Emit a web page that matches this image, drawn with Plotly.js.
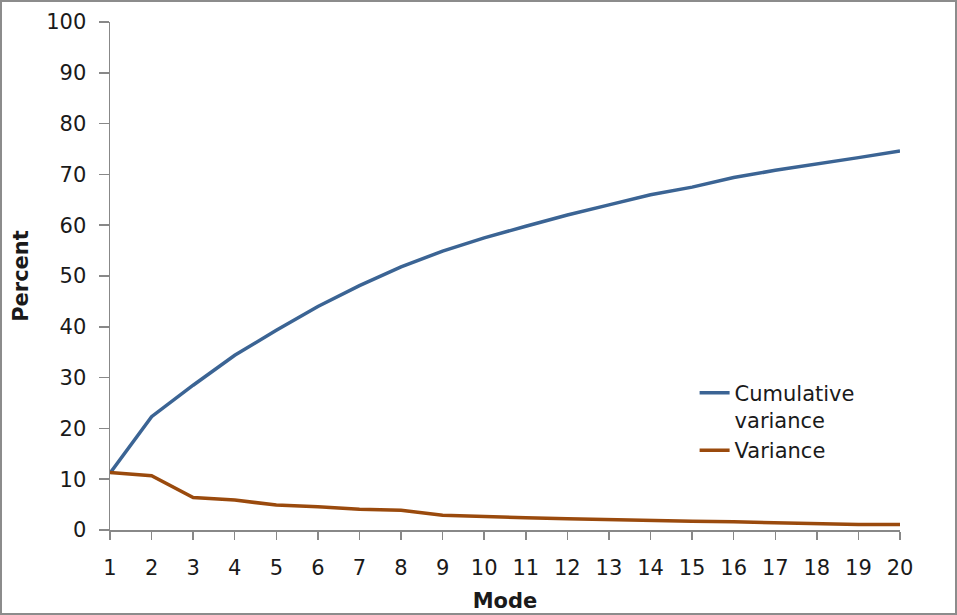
<!DOCTYPE html>
<html>
<head>
<meta charset="utf-8">
<script src="https://cdn.plot.ly/plotly-3.0.1.min.js"></script>
<style>
  html, body { margin: 0; padding: 0; background: #ffffff; }
  #wrap { width: 957px; height: 615px; box-sizing: border-box; border: 2px solid #8c8c8c; background: #fff; }
  #chart { width: 953px; height: 611px; }
</style>
</head>
<body>
<div id="wrap"><div id="chart"></div></div>
<script>
const modes = [1, 2, 3, 4, 5, 6, 7, 8, 9, 10, 11, 12, 13, 14, 15, 16, 17, 18, 19, 20];
const cumulativeVariance = [11.2, 22.3, 28.5, 34.4, 39.3, 44.0, 48.1, 51.8, 54.9, 57.5, 59.8, 62.0, 64.0, 66.0, 67.5, 69.4, 70.8, 72.0, 73.3, 74.6];
const variance = [11.3, 10.7, 6.4, 5.9, 4.9, 4.6, 4.1, 3.9, 2.9, 2.6, 2.4, 2.2, 2.0, 1.9, 1.7, 1.6, 1.4, 1.3, 1.1, 1.1];
const yTicks = [0, 10, 20, 30, 40, 50, 60, 70, 80, 90, 100];

const fontFamily = '"DejaVu Sans", "Noto Sans", sans-serif';
const fs = 21;

const traces = [
  {
    x: modes, y: cumulativeVariance, type: 'scatter', mode: 'lines',
    name: 'Cumulative<br>variance',
    line: { color: '#3b6494', width: 3.5 }
  },
  {
    x: modes, y: variance, type: 'scatter', mode: 'lines',
    name: 'Variance',
    line: { color: '#9a4a0d', width: 3.5 }
  }
];

const layout = {
  width: 953, height: 611,
  margin: { l: 108, r: 55, t: 20, b: 83 },
  paper_bgcolor: '#ffffff', plot_bgcolor: '#ffffff',
  font: { family: fontFamily, size: fs, color: '#1a1a1a' },
  showlegend: true,
  legend: {
    x: 0.740, xanchor: 'left', y: 0.31, yanchor: 'top',
    bgcolor: 'rgba(0,0,0,0)', borderwidth: 0,
    font: { family: fontFamily, size: fs, color: '#1a1a1a' },
    valign: 'top', tracegroupgap: 0
  },
  xaxis: {
    range: [1, 20], tickvals: modes, ticktext: modes.map(String),
    showgrid: false, zeroline: false,
    showline: true, linecolor: '#888888', linewidth: 1.5,
    ticks: 'outside', ticklen: 8, tickwidth: 1.5, tickcolor: '#888888',
    ticklabelstandoff: 10,
    tickfont: { family: fontFamily, size: fs, color: '#1a1a1a' },
    title: { text: '<b>Mode</b>', font: { family: fontFamily, size: fs, color: '#1a1a1a' }, standoff: 16 },
    automargin: false, fixedrange: true
  },
  yaxis: {
    range: [0, 100], tickvals: yTicks,
    showgrid: false, zeroline: false,
    showline: true, linecolor: '#888888', linewidth: 1.5,
    ticks: 'outside', ticklen: 10, tickwidth: 1.5, tickcolor: '#888888',
    ticklabelstandoff: 8,
    tickfont: { family: fontFamily, size: fs, color: '#1a1a1a' },
    title: { text: '<b>Percent</b>', font: { family: fontFamily, size: fs, color: '#1a1a1a' }, standoff: 12 },
    automargin: false, fixedrange: true
  }
};

Plotly.newPlot('chart', traces, layout, { displayModeBar: false, staticPlot: true });
</script>
</body>
</html>
